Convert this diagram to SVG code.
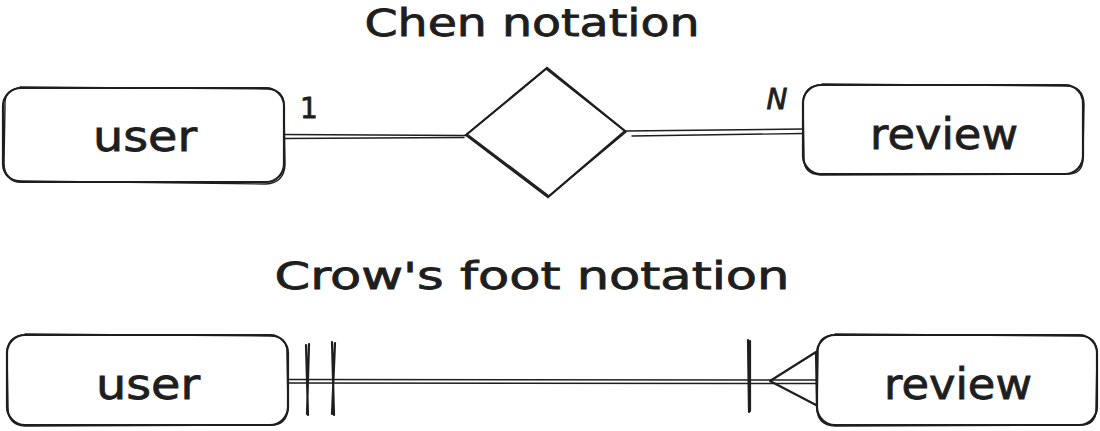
<svg xmlns="http://www.w3.org/2000/svg" width="1100" height="431" viewBox="0 0 1100 431">
<style>
.s{fill:none;stroke:#1e1e1e;stroke-width:2.2;stroke-linecap:round;stroke-linejoin:round}
.t{stroke-width:1.4}
.box{fill:#ffffff;stroke:#1e1e1e;stroke-width:2.2}
.txt{font-family:"DejaVu Sans","Liberation Sans",sans-serif;fill:#1e1e1e;stroke:#1e1e1e;stroke-width:0.8;text-anchor:middle}
.big{font-size:42px}
.title{font-size:37px}
.lab{font-size:28px}
</style>
<rect width="1100" height="431" fill="#ffffff"/>
<text class="txt title" x="532" y="36" textLength="335" lengthAdjust="spacingAndGlyphs">Chen notation</text>
<text class="txt title" x="532" y="289" textLength="515" lengthAdjust="spacingAndGlyphs">Crow's foot notation</text>
<g id="connectors">
  <path class="s t" d="M284 134.5 L466 135.5 M284 138.5 L464 137.5"/>
  <path class="s t" d="M626 131 L803 129 M632 136 L803 133.5"/>
  <text class="txt lab" x="309" y="118">1</text>
  <text class="txt lab" x="777" y="109" font-style="italic">N</text>
  <path class="s t" d="M288 379.5 L817 380 M288 383 L817 383.5"/>
  <path class="s" d="M306 345 L308 415 M309 344 L307 414"/>
  <path class="s" d="M332 342 L334 415 M335 343 L332 414"/>
  <path class="s" d="M748 340 L749 412 M750 341 L750 411"/>
  <path class="s" d="M770 381 L816 352 M770 381 L816 405 M816 352 L817 405"/>
</g>
<g id="user-chen">
  <rect class="box" x="3" y="88" width="281" height="94" rx="18"/>
  <path class="s t" d="M20 87 L268 89 Q285 90 284 108 L285 165 Q284 183 266 184 L22 181 Q4 181 4 163 L5 106 Q4 88 22 88"/>
  <text class="txt big" x="145" y="151" textLength="104" lengthAdjust="spacingAndGlyphs">user</text>
</g>
<g id="relationship">
  <path class="box" d="M466 135 L547 68 L625 131 L548 197 Z"/>
  <path class="s t" d="M467 134 L546 69 L626 132 L549 196 Z"/>
</g>
<g id="review-chen">
  <rect class="box" x="803" y="85" width="280" height="89" rx="18"/>
  <path class="s t" d="M822 84 L1066 86 Q1083 86 1084 104 L1083 158 Q1083 175 1066 174 L820 175 Q803 174 804 157 L803 103 Q804 85 822 85"/>
  <text class="txt big" x="944" y="149" textLength="148" lengthAdjust="spacingAndGlyphs">review</text>
</g>
<g id="user-crow">
  <rect class="box" x="7" y="335" width="281" height="90" rx="18"/>
  <path class="s t" d="M25 334 L270 336 Q288 336 287 354 L288 408 Q287 426 270 425 L25 426 Q8 425 8 408 L7 352 Q8 335 26 335"/>
  <text class="txt big" x="148" y="399" textLength="104" lengthAdjust="spacingAndGlyphs">user</text>
</g>
<g id="review-crow">
  <rect class="box" x="817" y="335" width="280" height="90" rx="18"/>
  <path class="s t" d="M835 334 L1080 336 Q1097 336 1097 354 L1096 408 Q1097 426 1079 425 L835 426 Q817 425 817 408 L818 353 Q817 335 835 335"/>
  <text class="txt big" x="958" y="399" textLength="148" lengthAdjust="spacingAndGlyphs">review</text>
</g>
</svg>
